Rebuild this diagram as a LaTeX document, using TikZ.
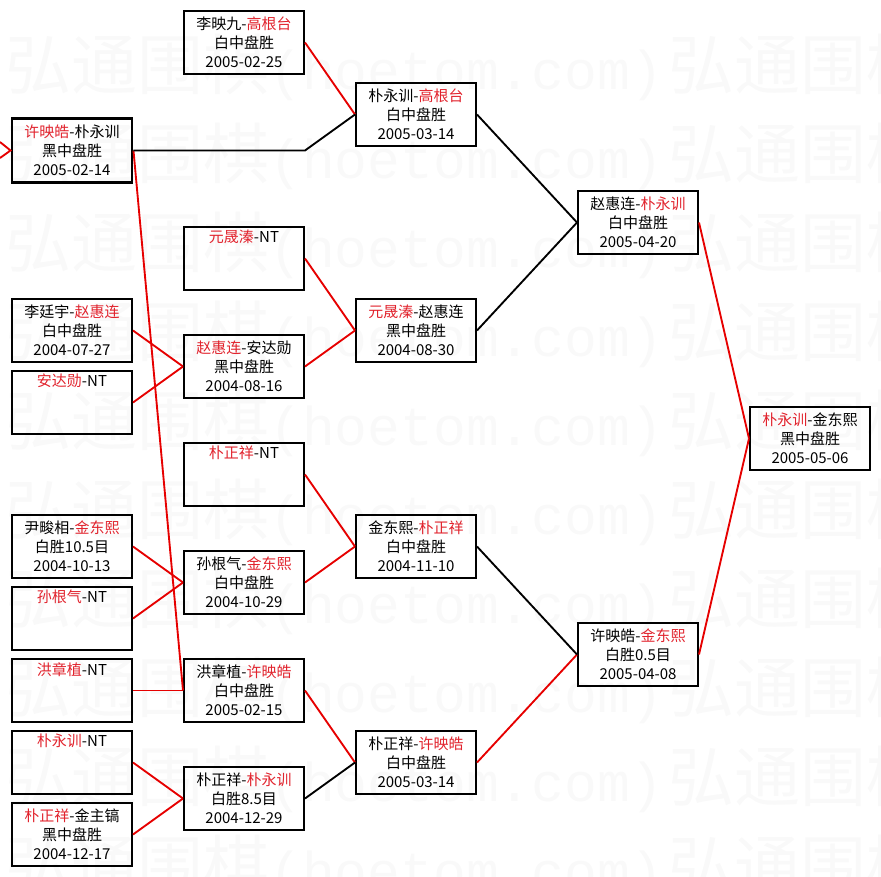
\documentclass[tikz,border=0pt]{standalone}
\usepackage{fontspec}
\setmainfont{Noto Sans CJK SC}
\newfontfamily\wmmono{Liberation Mono}
\usepackage{tikz}
\usetikzlibrary{calc,positioning}
\definecolor{wred}{RGB}{225,35,45}
\definecolor{lred}{RGB}{230,0,0}
\newcommand{\wn}[1]{\textcolor{wred}{#1}}
\newcommand{\nt}[1]{\wn{#1}-NT\\\strut\\\strut}

\begin{document}
\begin{tikzpicture}[x=0.75pt,y=-0.75pt,
  game/.style={draw,line width=1.5pt,minimum width=90pt,minimum height=47.5pt,inner sep=0pt,align=center,
    font=\fontsize{11.25pt}{14.25pt}\selectfont},
  wline/.style={lred,line width=1.4pt},
  lline/.style={black,line width=1.4pt},
  wmark/.style={anchor=west,inner sep=0pt,text=black!2.5,font=\fontsize{49.5pt}{52pt}\selectfont}]
\useasboundingbox (0,0) rectangle (881,877);
\begin{scope}
\clip (0,0) rectangle (881,877);
\foreach \r in {0,...,9} \foreach \c in {0,1}
  \node[wmark] (wm-\r-\c) at (5+\c*663,67+\r*89) {弘通围棋{\wmmono\fontsize{41pt}{44pt}\selectfont(hoetom.com)}};
\end{scope}
\node[game,line width=2.2pt] (a1) at (72,150.5) {\wn{许映皓}-朴永训\\黑中盘胜\\2005-02-14};
\node[game] (a2) at (72,330.5) {李廷宇-\wn{赵惠连}\\白中盘胜\\2004-07-27};
\node[game] (a3) at (72,402.5) {\nt{安达勋}};
\node[game] (a4) at (72,546.5) {尹畯相-\wn{金东熙}\\白胜10.5目\\2004-10-13};
\node[game] (a5) at (72,618.5) {\nt{孙根气}};
\node[game] (a6) at (72,690.5) {\nt{洪章植}};
\node[game] (a7) at (72,762.5) {\nt{朴永训}};
\node[game] (a8) at (72,834.5) {\wn{朴正祥}-金主镐\\黑中盘胜\\2004-12-17};
\node[game] (b1) at (244,42.5) {李映九-\wn{高根台}\\白中盘胜\\2005-02-25};
\node[game] (b2) at (244,258.5) {\nt{元晟溱}};
\node[game] (b3) at (244,366.5) {\wn{赵惠连}-安达勋\\黑中盘胜\\2004-08-16};
\node[game] (b4) at (244,474.5) {\nt{朴正祥}};
\node[game] (b5) at (244,582.5) {孙根气-\wn{金东熙}\\白中盘胜\\2004-10-29};
\node[game] (b6) at (244,690.5) {洪章植-\wn{许映皓}\\白中盘胜\\2005-02-15};
\node[game] (b7) at (244,798.5) {朴正祥-\wn{朴永训}\\白胜8.5目\\2004-12-29};
\node[game] (c1) at (416,114.5) {朴永训-\wn{高根台}\\白中盘胜\\2005-03-14};
\node[game] (c2) at (416,330.5) {\wn{元晟溱}-赵惠连\\黑中盘胜\\2004-08-30};
\node[game] (c3) at (416,546.5) {金东熙-\wn{朴正祥}\\白中盘胜\\2004-11-10};
\node[game] (c4) at (416,762.5) {朴正祥-\wn{许映皓}\\白中盘胜\\2005-03-14};
\node[game] (d1) at (638,222.5) {赵惠连-\wn{朴永训}\\白中盘胜\\2005-04-20};
\node[game] (d2) at (638,654.5) {许映皓-\wn{金东熙}\\白胜0.5目\\2005-04-08};
\node[game] (e1) at (810,438.5) {\wn{朴永训}-金东熙\\黑中盘胜\\2005-05-06};
\coordinate (in1) at (0,142);
\coordinate (in2) at (0,158);
\draw[wline] (in1) -- (a1.west) -- (in2);
\foreach \s/\t in {a1/b6,a2/b3,a3/b3,a4/b5,a5/b5,a6/b6,a7/b7,a8/b7,b1/c1,b2/c2,b3/c2,b4/c3,b5/c3,b6/c4,c4/d2,d1/e1,d2/e1}
  \draw[wline] (\s.east) -- (\t.west);
\foreach \s/\t in {c1/d1,c2/d1,c3/d2,b7/c4}
  \draw[lline] (\s.east) -- (\t.west);
\draw[lline] (a1.east) -- (a1.east -| b1.east) -- (c1.west);
\end{tikzpicture}
\end{document}
